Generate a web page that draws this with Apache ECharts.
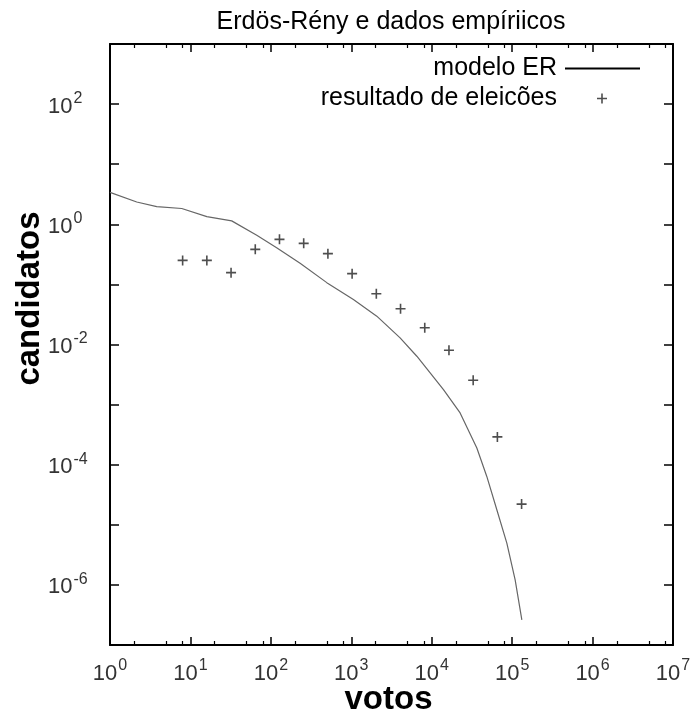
<!DOCTYPE html>
<html><head><meta charset="utf-8">
<script src="https://cdn.jsdelivr.net/npm/echarts@6/dist/echarts.min.js"></script>
<style>html,body{margin:0;padding:0;background:#fff}#c{width:699px;height:717px}</style>
</head><body><div id="c"></div>
<script>
// empirical data (resultado de eleicões)
const votosBins = [8,16,32,64,128,256,512,1024,2048,4096,8192,16384,32768,65536,131072];
const candidatosEmp = [0.251,0.251,0.157,0.383,0.562,0.482,0.325,0.151,0.070,0.0394,0.019,0.0080,0.00254,2.9e-4,2.21e-5];
// ER model curve
const modeloVotos = [1,2.15,3.81,7.8,16,32.6,66.8,118,231,496,1062,2075,4045,6530,14000,22550,36400,48400,64500,85900,109000,132000];
const modeloCand = [3.4,2.35,1.97,1.83,1.34,1.14,0.656,0.409,0.224,0.107,0.0562,0.0296,0.0129,0.00638,0.00178,7.28e-4,1.9e-4,6.38e-5,1.78e-5,4.95e-6,1.21e-6,2.61e-7];
// minor ticks on x axis
const xMinorTicks = [2,5,8,20,50,80,200,500,800,2e3,5e3,8e3,2e4,5e4,8e4,2e5,5e5,8e5,2e6,5e6,8e6];

const FONT = 'Liberation Sans, Arial, sans-serif';
const labelRich = {
  b: {fontSize: 22, color: '#333', fontFamily: FONT, verticalAlign: 'bottom'},
  s: {fontSize: 16, color: '#333', fontFamily: FONT, verticalAlign: 'bottom', padding: [0,0,11,1]}
};
function supLabel(v) {
  const e = Math.round(Math.log10(v));
  return '{b|10}{s|' + e + '}';
}
function supLabelEven(v) {
  const e = Math.round(Math.log10(v));
  if (e % 2 !== 0) return '';
  return '{b|10}{s|' + e + '}';
}
const lineAx = {show: true, lineStyle: {color: '#000', width: 2}};

const chart = echarts.init(document.getElementById('c'));
chart.setOption({
  animation: false,
  backgroundColor: '#fff',
  title: {
    text: 'Erdös-Rény e dados empíriicos',
    left: 386, top: 5, textAlign: 'center',
    textStyle: {fontFamily: FONT, fontSize: 25, fontWeight: 'normal', color: '#000'}
  },
  legend: [
    {data: [{name: 'modelo ER', icon: 'rect', itemStyle: {color: '#000'}}], right: 54, top: 51, align: 'right', orient: 'vertical',
     itemWidth: 75, itemHeight: 2,
     textStyle: {fontFamily: FONT, fontSize: 25, color: '#000', padding: [0, 3, 0, 0]}},
    {data: ['resultado de eleicões'], right: 87, top: 81, align: 'right', orient: 'vertical',
     itemWidth: 10, itemHeight: 10,
     textStyle: {fontFamily: FONT, fontSize: 25, color: '#000', padding: [0, 35, 0, 0]}}
  ],
  grid: {left: 110, right: 26, top: 44, bottom: 72, containLabel: false, outerBoundsMode: 'none'},
  xAxis: [
    {type: 'log', logBase: 10, min: 1, max: 1e7, interval: 1, position: 'bottom',
     name: 'votos', nameLocation: 'middle', nameGap: 38, nameMoveOverlap: false,
     nameTextStyle: {fontFamily: FONT, fontSize: 33, fontWeight: 'bold', color: '#000', padding: [0, 6, 0, 0]},
     axisLine: lineAx, splitLine: {show: false},
     axisTick: {show: true, inside: true, length: 8, lineStyle: {color: '#000', width: 1.5}},
     axisLabel: {show: true, margin: 13, formatter: supLabel, rich: labelRich}},
    {type: 'log', logBase: 10, min: 1, max: 1e7, interval: 1, position: 'top',
     axisLine: lineAx, splitLine: {show: false},
     axisTick: {show: true, inside: true, length: 8, lineStyle: {color: '#000', width: 1.5}},
     axisLabel: {show: false}},
    {type: 'log', logBase: 10, min: 1, max: 1e7, position: 'bottom',
     axisLine: {show: false}, splitLine: {show: false},
     axisTick: {show: true, inside: true, length: 4, customValues: xMinorTicks, lineStyle: {color: '#000', width: 1.2}},
     axisLabel: {show: false}},
    {type: 'log', logBase: 10, min: 1, max: 1e7, position: 'top',
     axisLine: {show: false}, splitLine: {show: false},
     axisTick: {show: true, inside: true, length: 4, customValues: xMinorTicks, lineStyle: {color: '#000', width: 1.2}},
     axisLabel: {show: false}}
  ],
  yAxis: [
    {type: 'log', logBase: 10, min: 1e-7, max: 1e3, interval: 1, position: 'left',
     name: 'candidatos', nameLocation: 'middle', nameGap: 64, nameMoveOverlap: false,
     nameTextStyle: {fontFamily: FONT, fontSize: 33, fontWeight: 'bold', color: '#000', padding: [0, 0, 0, 92]},
     axisLine: lineAx, splitLine: {show: false},
     axisTick: {show: true, inside: true, length: 9, lineStyle: {color: '#000', width: 1.5}},
     axisLabel: {show: true, margin: 62, align: 'left', formatter: supLabelEven, rich: labelRich}},
    {type: 'log', logBase: 10, min: 1e-7, max: 1e3, interval: 1, position: 'right',
     axisLine: lineAx, splitLine: {show: false},
     axisTick: {show: true, inside: true, length: 9, lineStyle: {color: '#000', width: 1.5}},
     axisLabel: {show: false}}
  ],
  series: [
    {name: 'modelo ER', type: 'line', xAxisIndex: 0, yAxisIndex: 0,
     data: modeloVotos.map((v, i) => [v, modeloCand[i]]),
     showSymbol: false, symbol: 'none', smooth: false,
     lineStyle: {color: '#666', width: 1.2}, itemStyle: {color: '#000'}},
    {name: 'resultado de eleicões', type: 'scatter', xAxisIndex: 0, yAxisIndex: 0,
     data: votosBins.map((v, i) => [v, candidatosEmp[i]]),
     symbol: 'path://M4.2,0H5.8V4.2H10V5.8H5.8V10H4.2V5.8H0V4.2H4.2Z', symbolSize: 10,
     itemStyle: {color: '#222'}}
  ]
});
</script></body></html>
